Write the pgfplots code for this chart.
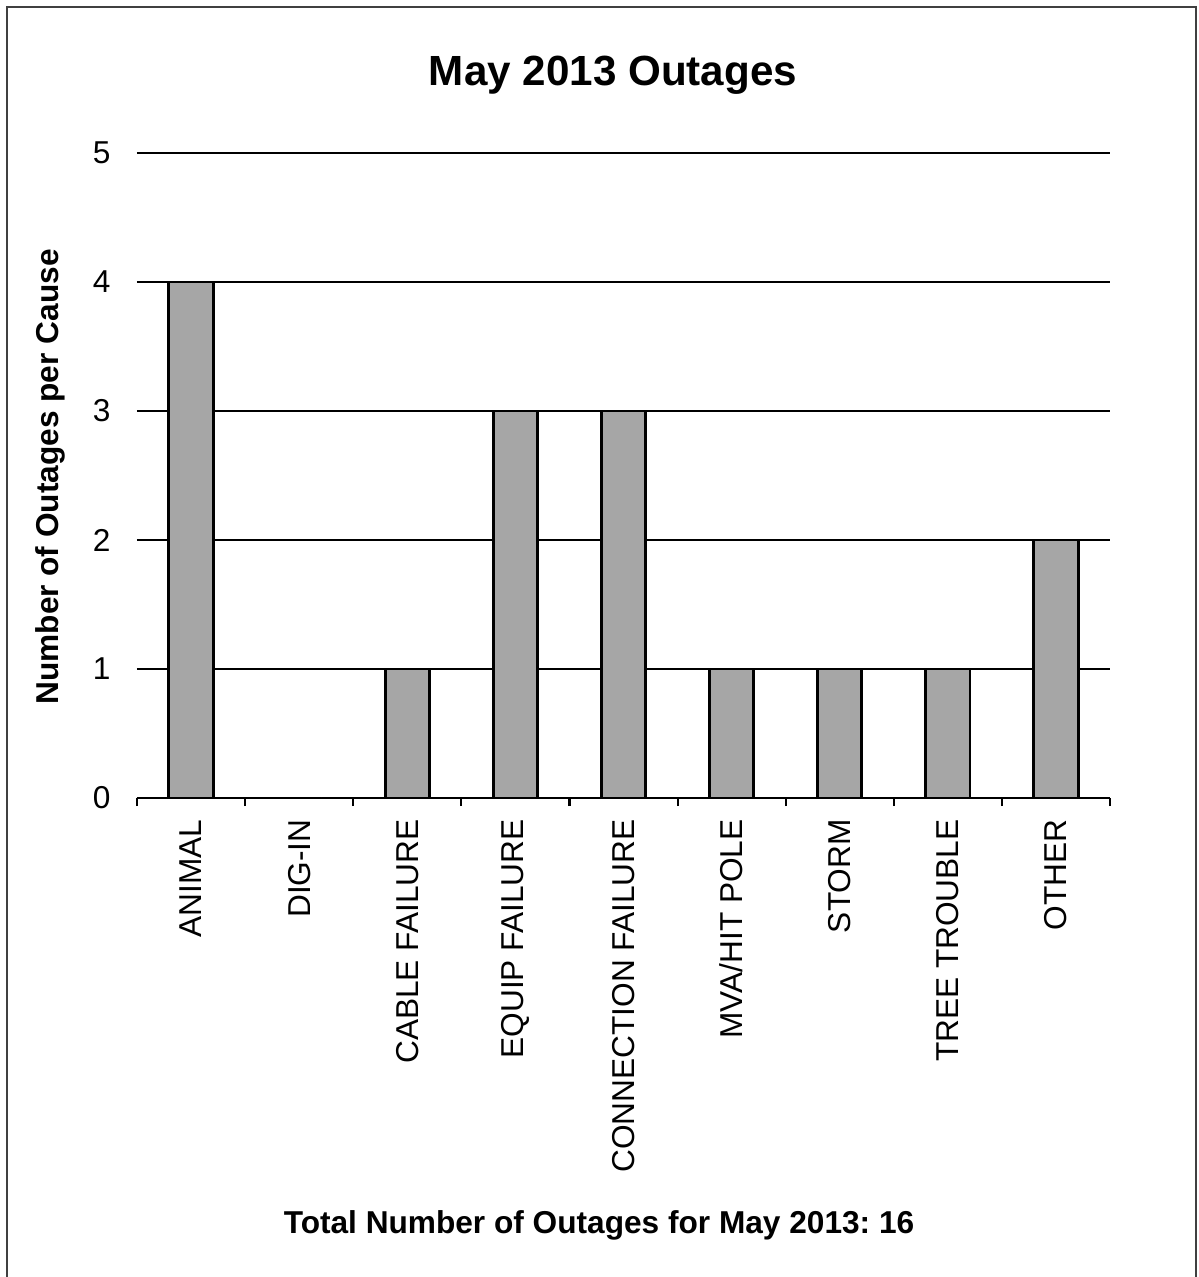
\documentclass[border=0pt]{standalone}
\usepackage{pgfplots}
\pgfplotsset{compat=1.18}
\usepackage{fontspec}
\setmainfont{Liberation Sans}
\frenchspacing
\definecolor{bargray}{HTML}{A6A6A6}
\begin{document}
\begin{tikzpicture}
% page bounds and frame (1px = 0.1mm; origin at axis south west)
\path[use as bounding box] (-13.7mm,79.8mm) rectangle (106.1mm,-47.9mm);
\draw[black!75, line width=0.4pt] (-13.0mm,-47.9mm) -- (-13.0mm,79.1mm) -- (105.9mm,79.1mm) -- (105.9mm,-47.9mm);
\begin{axis}[
  at={(0,0)}, anchor=south west,
  scale only axis,
  width=97.3mm, height=64.5mm,
  xmin=-0.5, xmax=8.5, ymin=0, ymax=5,
  axis x line*=bottom, axis y line*=left,
  y axis line style={draw=none},
  x axis line style={line width=0.6pt, -},
  ytick={0,1,2,3,4,5},
  ytick style={draw=none},
  ymajorgrids, grid style={black, line width=0.6pt},
  xtick={0,...,8},
  xticklabels={ANIMAL,DIG-IN,CABLE FAILURE,EQUIP FAILURE,CONNECTION FAILURE,MVA/HIT POLE,STORM,TREE TROUBLE,OTHER},
  major x tick style={draw=none},
  minor xtick={-0.5,0.5,...,8.5},
  minor x tick style={black, line width=0.6pt},
  minor tick length=0.8mm,
  xtick align=outside,
  x tick label style={rotate=90, anchor=east, font=\fontsize{9}{11}\selectfont, yshift=0pt, xshift=0.6mm},
  y tick label style={font=\fontsize{9}{11}\selectfont, xshift=-1.4mm},
  /pgf/number format/assume math mode=true,
  bar width=0.41,
]
\addplot[ybar, fill=bargray, draw=black, line width=0.85pt] coordinates {
  (0,4) (1,0) (2,1) (3,3) (4,3) (5,1) (6,1) (7,1) (8,2)
};
\end{axis}
\node[font=\fontsize{12}{14}\selectfont\bfseries] at (47.6mm,72.3mm) {May 2013 Outages};
\node[rotate=90, font=\fontsize{9}{11}\selectfont\bfseries] at (-8.7mm,32.1mm) {Number of Outages per Cause};
\node[font=\fontsize{9}{11}\selectfont\bfseries] at (46.2mm,-42.7mm) {Total Number of Outages for May 2013: 16};
\end{tikzpicture}
\end{document}
